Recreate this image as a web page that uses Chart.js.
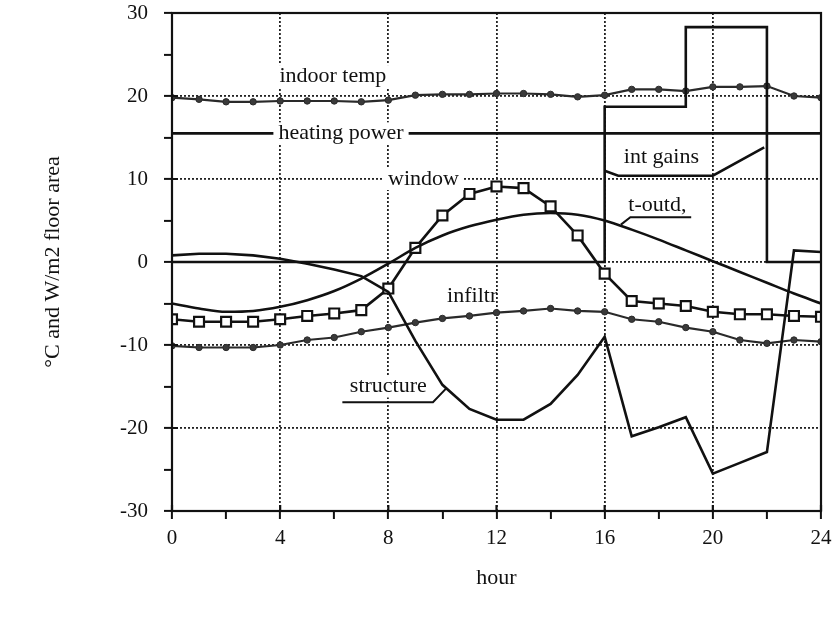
<!DOCTYPE html>
<html>
<head>
<meta charset="utf-8">
<script src="https://cdn.jsdelivr.net/npm/chart.js@4.4.1/dist/chart.umd.min.js"></script>
<style>
  html, body { margin: 0; padding: 0; background: #fff; }
</style>
</head>
<body>
<canvas id="chart" width="837" height="618"></canvas>
<script>
// hourly values
const hours = [0,1,2,3,4,5,6,7,8,9,10,11,12,13,14,15,16,17,18,19,20,21,22,23,24];
const indoorTemp = [19.8,19.6,19.3,19.3,19.4,19.4,19.4,19.3,19.5,20.1,20.2,20.2,20.3,20.3,20.2,19.9,20.1,20.8,20.8,20.6,21.1,21.1,21.2,20.0,19.8];
const windowGain = [-6.9,-7.2,-7.2,-7.2,-6.9,-6.5,-6.2,-5.8,-3.2,1.7,5.6,8.2,9.1,8.9,6.7,3.2,-1.4,-4.7,-5.0,-5.3,-6.0,-6.3,-6.3,-6.5,-6.6];
const infiltr = [-10.1,-10.3,-10.3,-10.3,-10.0,-9.4,-9.1,-8.4,-7.9,-7.3,-6.8,-6.5,-6.1,-5.9,-5.6,-5.9,-6.0,-6.9,-7.2,-7.9,-8.4,-9.4,-9.8,-9.4,-9.6];
const tOutd = [-5.0,-5.6,-6.0,-5.9,-5.4,-4.6,-3.5,-2.0,-0.2,1.7,3.2,4.3,5.1,5.7,5.9,5.7,5.0,3.9,2.7,1.4,0.1,-1.2,-2.5,-3.8,-5.0];
const structure = [0.8,1.0,1.0,0.8,0.4,-0.2,-0.9,-1.7,-3.6,-9.5,-14.8,-17.7,-19.0,-19.0,-17.1,-13.6,-9.0,-21.0,-19.9,-18.7,-25.5,-24.2,-22.9,1.4,1.2];

// heating power: flat line over the day
const heatHours = [0, 24];
const heatPower = [15.5, 15.5];

// int gains: level changes at these hours (step)
const gainHours = [0, 16, 19, 22, 24];
const gainLevels = [0, 18.7, 28.3, 0, 0];

// evening curve under the "int gains" label
const eveHours = [16, 16.5, 20, 21.9];
const eveValues = [11.0, 10.4, 10.4, 13.8];

const yTicks = [-30, -20, -10, 0, 10, 20, 30];
const xTicks = [0, 4, 8, 12, 16, 20, 24];

const ink = '#111';
const serif = '"Liberation Serif", "DejaVu Serif", serif';

function pairs(xs, ys) {
    return xs.map((x, i) => ({ x: x, y: ys[i] }));
}

function lineSet(label, xs, ys, extra) {
    return Object.assign({
        label: label,
        data: pairs(xs, ys),
        borderColor: ink,
        borderWidth: 2.6,
        pointRadius: 0,
        tension: 0,
        fill: false
    }, extra || {});
}

// text labels written on the plot, in data units
const curveLabels = [
    { text: 'indoor temp', x: 5.95, y: 22.4, box: true },
    { text: 'heating power', x: 6.25, y: 15.5, box: true },
    { text: 'window', x: 9.3, y: 10.0, box: true },
    { text: 'int gains', x: 18.1, y: 12.6, box: false },
    { text: 't-outd,', x: 17.95, y: 6.8, box: false },
    { text: 'infiltr', x: 11.1, y: -4.1, box: false },
    { text: 'structure', x: 8.0, y: -15.0, box: true }
];
const leaders = [
    [[19.2, 5.4], [16.95, 5.4], [16.6, 4.5]],
    [[6.3, -16.9], [9.65, -16.9], [10.15, -15.2]]
];

const plotDecor = {
    id: 'plotDecor',
    afterDatasetsDraw(chart) {
        const { ctx, chartArea: a, scales: { x, y } } = chart;
        ctx.save();
        ctx.strokeStyle = ink;
        ctx.lineWidth = 2.2;
        ctx.setLineDash([]);
        ctx.strokeRect(a.left, a.top, a.right - a.left, a.bottom - a.top);

        // major ticks also poke into the plot
        ctx.beginPath();
        xTicks.forEach(v => {
            const px = x.getPixelForValue(v);
            ctx.moveTo(px, a.bottom);
            ctx.lineTo(px, a.bottom - 6);
        });
        yTicks.forEach(v => {
            const py = y.getPixelForValue(v);
            ctx.moveTo(a.left, py);
            ctx.lineTo(a.left + 6, py);
        });
        ctx.stroke();

        ctx.font = '22px ' + serif;
        ctx.textAlign = 'center';
        ctx.textBaseline = 'middle';
        curveLabels.forEach(l => {
            const px = x.getPixelForValue(l.x);
            const py = y.getPixelForValue(l.y);
            if (l.box) {
                const w = ctx.measureText(l.text).width;
                ctx.fillStyle = '#fff';
                ctx.fillRect(px - w / 2 - 5, py - 11, w + 10, 22);
            }
            ctx.fillStyle = ink;
            ctx.fillText(l.text, px, py);
        });

        ctx.lineWidth = 2;
        leaders.forEach(pts => {
            ctx.beginPath();
            pts.forEach((p, i) => {
                const px = x.getPixelForValue(p[0]);
                const py = y.getPixelForValue(p[1]);
                if (i === 0) ctx.moveTo(px, py); else ctx.lineTo(px, py);
            });
            ctx.stroke();
        });
        ctx.restore();
    }
};

new Chart(document.getElementById('chart'), {
    type: 'line',
    data: {
        datasets: [
            lineSet('heating power', heatHours, heatPower),
            lineSet('int gains', gainHours, gainLevels, { stepped: 'before' }),
            lineSet('int gains curve', eveHours, eveValues),
            lineSet('t-outd', hours, tOutd, { tension: 0.4, cubicInterpolationMode: 'monotone' }),
            lineSet('structure', hours, structure),
            lineSet('indoor temp', hours, indoorTemp, {
                borderWidth: 2.2, borderColor: '#2a2a2a',
                pointRadius: 3.2, pointBackgroundColor: '#3a3a3a', pointBorderColor: '#2a2a2a', pointBorderWidth: 1
            }),
            lineSet('infiltr', hours, infiltr, {
                borderWidth: 2.2, borderColor: '#2a2a2a',
                pointRadius: 3.2, pointBackgroundColor: '#3a3a3a', pointBorderColor: '#2a2a2a', pointBorderWidth: 1
            }),
            lineSet('window', hours, windowGain, {
                pointStyle: 'rect', pointRadius: 7, pointBorderWidth: 2.2,
                pointBackgroundColor: '#fff', pointBorderColor: ink
            })
        ]
    },
    options: {
        responsive: false,
        animation: false,
        devicePixelRatio: 1,
        layout: { padding: { top: 13, right: 16, bottom: 0, left: 0 } },
        plugins: {
            legend: { display: false },
            tooltip: { enabled: false }
        },
        scales: {
            x: {
                type: 'linear',
                min: 0,
                max: 24,
                afterFit: s => { s.height = 107; s.paddingLeft = 0; s.paddingRight = 0; },
                ticks: {
                    stepSize: 2,
                    autoSkip: false,
                    maxRotation: 0,
                    padding: 7,
                    color: ink,
                    font: { family: serif, size: 21 },
                    callback: v => (v % 4 === 0 ? String(v) : '')
                },
                grid: {
                    color: c => (c.tick && c.tick.value % 4 === 0 && c.tick.value > 0 && c.tick.value < 24) ? '#222' : 'rgba(0,0,0,0)',
                    lineWidth: 1.8,
                    tickColor: ink,
                    tickWidth: 2,
                    tickLength: 8,
                    tickBorderDash: []
                },
                border: { display: false, dash: [2, 2] },
                title: {
                    display: true,
                    text: 'hour',
                    color: ink,
                    font: { family: serif, size: 22 },
                    padding: { top: 0, bottom: 27 }
                }
            },
            y: {
                min: -30,
                max: 30,
                afterFit: s => { s.width = 172; s.paddingTop = 0; s.paddingBottom = 0; },
                ticks: {
                    stepSize: 5,
                    autoSkip: false,
                    padding: 16,
                    color: ink,
                    font: { family: serif, size: 21 },
                    callback: v => (v % 10 === 0 ? String(v) : '')
                },
                grid: {
                    color: c => (c.tick && c.tick.value % 10 === 0 && Math.abs(c.tick.value) < 30) ? '#222' : 'rgba(0,0,0,0)',
                    lineWidth: 1.8,
                    tickColor: ink,
                    tickWidth: 2,
                    tickLength: 8,
                    tickBorderDash: []
                },
                border: { display: false, dash: [2, 2] },
                title: {
                    display: true,
                    text: '°C and W/m2 floor area',
                    color: ink,
                    font: { family: serif, size: 22 },
                    padding: { top: 40, bottom: 0 }
                }
            }
        }
    },
    plugins: [plotDecor]
});
</script>
</body>
</html>
